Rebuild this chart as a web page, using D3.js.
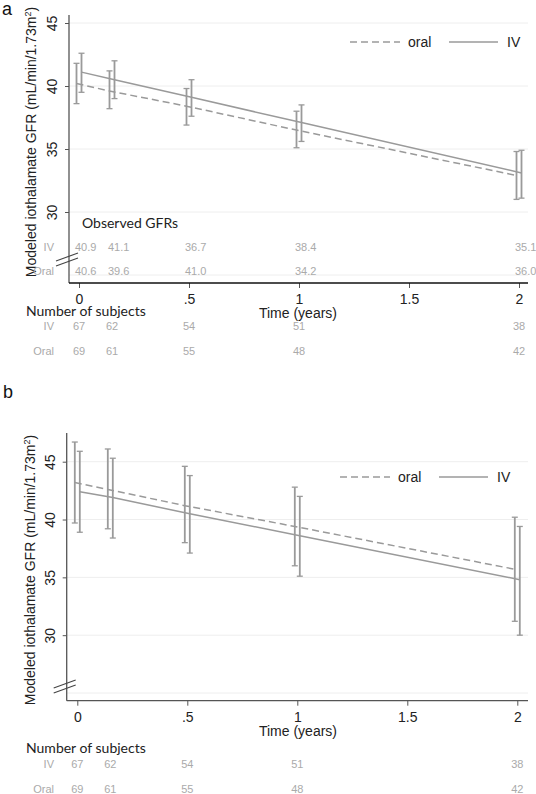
<!DOCTYPE html>
<html><head><meta charset="utf-8">
<script src="https://cdn.jsdelivr.net/npm/d3@7"></script>
<style>body{margin:0;background:#fff}svg{display:block}</style>
</head><body>
<svg id="c" width="536" height="794"></svg>
<script>
const times = [0, 0.15, 0.5, 1, 2];
const xTicks = [0, 0.5, 1, 1.5, 2];
const xTickLabels = ["0", ".5", "1", "1.5", "2"];
const yTicks = [30, 35, 40, 45];

const aOralMean = [40.2, 39.6, 38.4, 36.5, 32.9];
const aOralLo   = [38.6, 38.2, 36.9, 35.1, 31.0];
const aOralHi   = [41.8, 41.2, 39.8, 38.0, 34.8];
const aIVMean   = [41.1, 40.5, 39.1, 37.1, 33.1];
const aIVLo     = [39.5, 39.0, 37.6, 35.6, 31.1];
const aIVHi     = [42.6, 42.0, 40.5, 38.5, 34.9];

const bOralMean = [43.2, 42.6, 41.2, 39.4, 35.7];
const bOralLo   = [39.7, 39.2, 38.0, 36.0, 31.2];
const bOralHi   = [46.7, 46.1, 44.6, 42.8, 40.2];
const bIVMean   = [42.4, 41.9, 40.5, 38.6, 34.8];
const bIVLo     = [38.9, 38.4, 37.1, 35.1, 30.0];
const bIVHi     = [45.9, 45.3, 43.8, 42.0, 39.4];

const obsIV   = ["40.9", "41.1", "36.7", "38.4", "35.1"];
const obsOral = ["40.6", "39.6", "41.0", "34.2", "36.0"];
const nIV   = [67, 62, 54, 51, 38];
const nOral = [69, 61, 55, 48, 42];

const svg = d3.select("#c");
const GRAY = "#9a9a9a";
const AX = "Liberation Sans, Arial, sans-serif";
const CAL = "Lato, 'Open Sans', sans-serif";

function panel(cfg) {
  const g = svg.append("g");
  const x = d3.scaleLinear().domain([0, 2]).range(cfg.xr);
  const y = d3.scaleLinear().domain([25, 45]).range(cfg.yr);
  const right = 528;
  // gridlines
  g.selectAll(".grid").data([25, 30, 35, 40, 45]).enter().append("line")
    .attr("x1", cfg.axX).attr("x2", right)
    .attr("y1", d => y(d)).attr("y2", d => y(d))
    .attr("stroke", "#eeeeee").attr("stroke-width", 1);
  // y axis
  const ya = g.append("g").attr("transform", `translate(${cfg.axX},0)`)
    .call(d3.axisLeft(y).tickValues(yTicks).tickSize(4).tickFormat(d3.format("d")));
  ya.select(".domain").remove();
  ya.selectAll(".tick line").attr("stroke", "#555");
  ya.selectAll(".tick text").attr("font-family", AX).attr("font-size", 14).attr("fill", "#222")
    .attr("text-anchor", "middle")
    .attr("transform", "translate(-12,0) rotate(-90)")
    .attr("x", 0).attr("y", 0).attr("dy", "0em");
  g.append("line").attr("x1", cfg.axX).attr("x2", cfg.axX)
    .attr("y1", cfg.axTop).attr("y2", cfg.axBottom)
    .attr("stroke", "#555").attr("stroke-width", 1.3);
  // x axis
  const xa = g.append("g").attr("transform", `translate(0,${cfg.axBottom})`)
    .call(d3.axisBottom(x).tickValues(xTicks).tickSize(5).tickFormat((d, i) => xTickLabels[i]));
  xa.select(".domain").remove();
  xa.selectAll(".tick line").attr("stroke", "#555");
  xa.selectAll(".tick text").attr("font-family", AX).attr("font-size", 14).attr("fill", "#222").attr("dy", "0.92em");
  g.append("line").attr("x1", cfg.axX).attr("x2", right)
    .attr("y1", cfg.axBottom).attr("y2", cfg.axBottom)
    .attr("stroke", cfg.xAxisColor).attr("stroke-width", 1.3);
  // break marks
  [0, 5].forEach(off => {
    g.append("line").attr("x1", cfg.axX - 13).attr("y1", cfg.breakY + 4 + off)
      .attr("x2", cfg.axX + 9).attr("y2", cfg.breakY - 4 + off)
      .attr("stroke", "#444").attr("stroke-width", 1.1);
  });
  // axis titles
  const yt = g.append("text").attr("transform", `translate(${cfg.yTitleX},${cfg.yTitleY}) rotate(-90)`)
    .attr("text-anchor", "middle").attr("font-family", AX).attr("font-size", 14).attr("fill", "#222");
  yt.append("tspan").text("Modeled iothalamate GFR (mL/min/1.73m");
  yt.append("tspan").attr("font-size", 9).attr("dy", -5).text("2");
  yt.append("tspan").attr("dy", 5).text(")");
  g.append("text").attr("x", 298).attr("y", cfg.xTitleY).attr("text-anchor", "middle")
    .attr("font-family", AX).attr("font-size", 14).attr("fill", "#222").text("Time (years)");

  // series
  const series = [
    {mean: cfg.oralMean, lo: cfg.oralLo, hi: cfg.oralHi, dx: -2.5, dash: "7,4"},
    {mean: cfg.ivMean, lo: cfg.ivLo, hi: cfg.ivHi, dx: 2.5, dash: null}
  ];
  series.forEach(s => {
    const pts = times.map((t, i) => [x(t) + s.dx, y(s.mean[i])]);
    g.append("path").attr("d", d3.line()(pts)).attr("fill", "none")
      .attr("stroke", GRAY).attr("stroke-width", 1.5)
      .attr("stroke-dasharray", s.dash);
    times.forEach((t, i) => {
      const cx = x(t) + s.dx;
      g.append("line").attr("x1", cx).attr("x2", cx).attr("y1", y(s.lo[i])).attr("y2", y(s.hi[i]))
        .attr("stroke", GRAY).attr("stroke-width", 1.8);
      [s.lo[i], s.hi[i]].forEach(v => {
        g.append("line").attr("x1", cx - 3).attr("x2", cx + 3).attr("y1", y(v)).attr("y2", y(v))
          .attr("stroke", GRAY).attr("stroke-width", 1.3);
      });
    });
  });

  // legend
  const lg = cfg.legend;
  g.append("line").attr("x1", lg.x).attr("x2", lg.x + 50).attr("y1", lg.y).attr("y2", lg.y)
    .attr("stroke", GRAY).attr("stroke-width", 1.5).attr("stroke-dasharray", "7,4");
  g.append("text").attr("x", lg.x + 58).attr("y", lg.y + 5).attr("font-family", AX).attr("font-size", 14)
    .attr("fill", "#222").text("oral");
  g.append("line").attr("x1", lg.x + 99).attr("x2", lg.x + 148).attr("y1", lg.y).attr("y2", lg.y)
    .attr("stroke", GRAY).attr("stroke-width", 1.5);
  g.append("text").attr("x", lg.x + 157).attr("y", lg.y + 5).attr("font-family", AX).attr("font-size", 14)
    .attr("fill", "#222").text("IV");

  // observed GFRs
  if (cfg.observed) {
    g.append("text").attr("x", 82).attr("y", 228).attr("font-family", CAL).attr("font-size", 14)
      .attr("fill", "#222").text("Observed GFRs");
    [[obsIV, "IV", 246.7], [obsOral, "Oral", 271]].forEach(([arr, lab, yy]) => {
      g.append("text").attr("x", 54).attr("y", yy).attr("dy", "0.35em").attr("text-anchor", "end")
        .attr("font-family", AX).attr("font-size", 11).attr("fill", "#aaa").text(lab);
      g.selectAll(null).data(arr).enter().append("text")
        .attr("x", (d, i) => x(times[i]) - 4).attr("y", yy).attr("dy", "0.35em")
        .attr("font-family", AX).attr("font-size", 11).attr("fill", "#aaa").text(d => d);
    });
  }
  // number of subjects
  g.append("text").attr("x", 26).attr("y", cfg.nTitleY).attr("dy", "0.35em").attr("font-family", CAL)
    .attr("font-size", 14).attr("fill", "#222").text("Number of subjects");
  [[nIV, "IV", cfg.nIVY], [nOral, "Oral", cfg.nOralY]].forEach(([arr, lab, yy]) => {
    g.append("text").attr("x", 54).attr("y", yy).attr("dy", "0.35em").attr("text-anchor", "end")
      .attr("font-family", AX).attr("font-size", 11).attr("fill", "#aaa").text(lab);
    g.selectAll(null).data(arr).enter().append("text")
      .attr("x", (d, i) => x(times[i])).attr("y", yy).attr("dy", "0.35em").attr("text-anchor", "middle")
      .attr("font-family", AX).attr("font-size", 11).attr("fill", "#aaa").text(d => d);
  });
  g.append("text").attr("x", cfg.label.x).attr("y", cfg.label.y).attr("font-family", AX)
    .attr("font-size", 18).attr("fill", "#111").text(cfg.label.t);
}

panel({
  xr: [79, 519], yr: [275, 23], axX: 69, axTop: 15, axBottom: 283, xAxisColor: "#111",
  breakY: 257, yTitleX: 36, yTitleY: 142, xTitleY: 318,
  oralMean: aOralMean, oralLo: aOralLo, oralHi: aOralHi,
  ivMean: aIVMean, ivLo: aIVLo, ivHi: aIVHi,
  legend: {x: 350, y: 42}, observed: true,
  nTitleY: 311, nIVY: 326, nOralY: 350.7, label: {x: 2, y: 15, t: "a"}
});
panel({
  xr: [77.3, 517.3], yr: [693, 461.7], axX: 66.7, axTop: 433, axBottom: 700.7, xAxisColor: "#555",
  breakY: 684, yTitleX: 35, yTitleY: 570, xTitleY: 736,
  oralMean: bOralMean, oralLo: bOralLo, oralHi: bOralHi,
  ivMean: bIVMean, ivLo: bIVLo, ivHi: bIVHi,
  legend: {x: 340, y: 477}, observed: false,
  nTitleY: 748, nIVY: 764.3, nOralY: 789, label: {x: 3, y: 398, t: "b"}
});
</script>
</body></html>
